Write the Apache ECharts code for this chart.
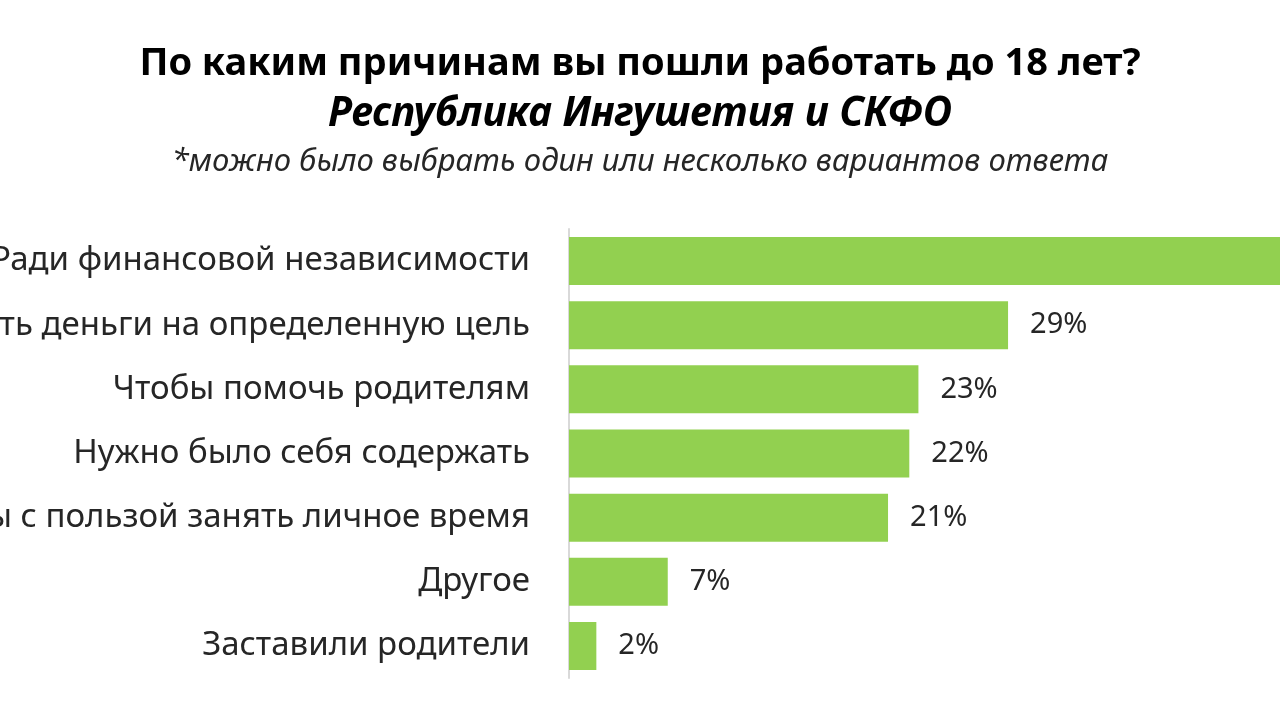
<!DOCTYPE html>
<html>
<head>
<meta charset="utf-8">
<script src="https://cdn.jsdelivr.net/npm/echarts@6/dist/echarts.min.js"></script>
<style>
  html, body { margin: 0; padding: 0; background: #fff; }
  #chart { width: 1280px; height: 720px; }
</style>
</head>
<body>
<div id="chart"></div>
<script>
// данные
var categories = [
    'Ради финансовой независимости',
    'Заработать деньги на определенную цель',
    'Чтобы помочь родителям',
    'Нужно было себя содержать',
    'Чтобы с пользой занять личное время',
    'Другое',
    'Заставили родители'
];
// значения в %, подпись округляется
var values = [50, 28.9, 23, 22.4, 21, 6.5, 1.8];

var font = '"Noto Sans", "Open Sans", sans-serif';

var myChart = echarts.init(document.getElementById('chart'));
var option = {
    backgroundColor: '#ffffff',
    animation: false,
    title: [
        {
            text: 'По каким причинам вы пошли работать до 18 лет?',
            left: 'center',
            top: 40,
            textStyle: { fontFamily: font, fontSize: 38, fontWeight: 'bold', color: '#000' }
        },
        {
            text: 'Республика Ингушетия и СКФО',
            left: 'center',
            top: 89,
            textStyle: { fontFamily: font, fontSize: 40.5, fontWeight: 'bold', fontStyle: 'italic', color: '#000' }
        },
        {
            text: '*можно было выбрать один или несколько вариантов ответа',
            left: 'center',
            top: 142,
            textStyle: { fontFamily: font, fontSize: 31, fontStyle: 'italic', fontWeight: 'normal', color: '#262626' }
        }
    ],
    grid: {
        left: 569,
        right: 0,
        top: 229,
        height: 449,
        containLabel: false,
        outerBoundsMode: 'none'
    },
    xAxis: {
        type: 'value',
        min: 0,
        max: 46.8,
        show: false
    },
    yAxis: {
        type: 'category',
        inverse: true,
        data: categories,
        axisLine: { show: true, lineStyle: { color: '#d9d9d9', width: 2 } },
        axisTick: { show: false },
        axisLabel: {
            margin: 39,
            fontFamily: font,
            fontSize: 33,
            color: '#262626'
        }
    },
    series: [
        {
            type: 'bar',
            data: values,
            barWidth: 48,
            clip: true,
            itemStyle: { color: '#92d050' },
            label: {
                show: true,
                position: 'right',
                distance: 22,
                formatter: function (p) { return Math.round(p.value) + '%'; },
                fontFamily: font,
                fontSize: 29,
                color: '#262626'
            }
        }
    ]
};
myChart.setOption(option);
</script>
</body>
</html>
